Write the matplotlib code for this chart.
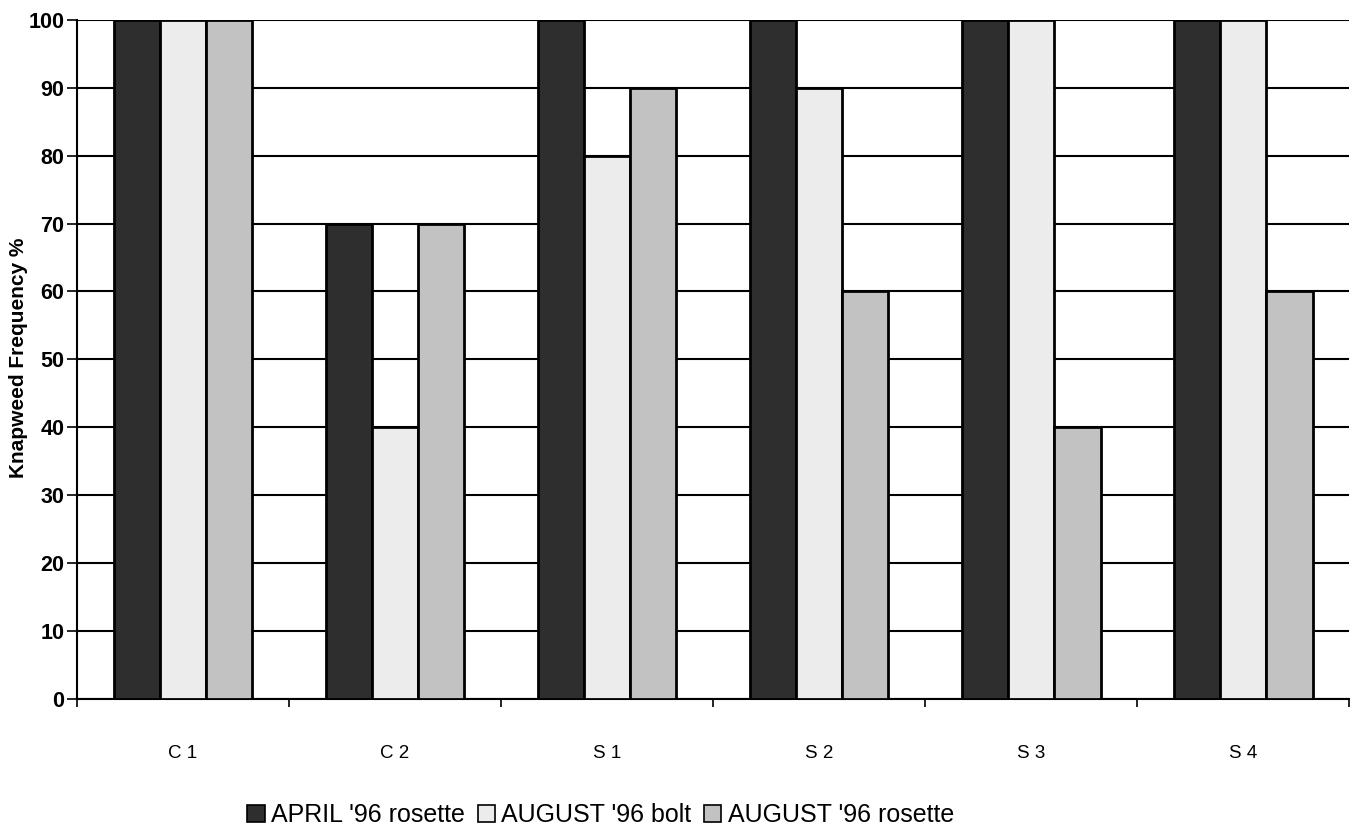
import matplotlib
matplotlib.use("Agg")
import matplotlib.pyplot as plt
import numpy as np

categories = ["C 1", "C 2", "S 1", "S 2", "S 3", "S 4"]
april_rosette = [100, 70, 100, 100, 100, 100]
august_bolt = [100, 40, 80, 90, 100, 100]
august_rosette = [100, 70, 90, 60, 40, 60]
series_names = ["APRIL '96 rosette", "AUGUST '96 bolt", "AUGUST '96 rosette"]
yticks = list(range(0, 101, 10))

plt.rcParams['font.family'] = ['Liberation Sans', 'DejaVu Sans']

fig = plt.figure(figsize=(13.56, 8.30), dpi=100)
ax = fig.add_axes([0.0568, 0.158, 0.9382, 0.818])

x = np.arange(len(categories))
w = 0.218
colors = ["#2e2e2e", "#ececec", "#c2c2c2"]
data = [april_rosette, august_bolt, august_rosette]
for i, (vals, c, name) in enumerate(zip(data, colors, series_names)):
    ax.bar(x + (i - 1) * w, vals, width=w, color=c, edgecolor="black",
           linewidth=2, label=name, zorder=3)

ax.set_xlim(-0.5, len(categories) - 0.5)
ax.set_ylim(0, 100)
ax.set_yticks(yticks)
ax.set_yticklabels([str(t) for t in yticks], fontsize=15.5, fontweight="bold")
ax.yaxis.grid(True, color="black", linewidth=1.5, zorder=0)
ax.set_axisbelow(True)

ax.set_xticks(x)
ax.set_xticklabels(categories, fontsize=13.5)
ax.set_xticks(np.arange(-0.5, len(categories) + 0.5, 1), minor=True)
ax.tick_params(axis="x", which="major", length=0, pad=33)
ax.tick_params(axis="x", which="minor", length=6, width=1.2, direction="out")
ax.tick_params(axis="y", length=7, width=1.2, direction="out", pad=2)

for s in ["top", "right"]:
    ax.spines[s].set_visible(False)
ax.spines["left"].set_linewidth(1.5)
ax.spines["bottom"].set_linewidth(1.5)

fig.text(19 / 1356, 1 - 358 / 830, "Knapweed Frequency %", rotation=90,
         ha="center", va="center", fontsize=15, fontweight="bold")

leg = fig.legend(loc="center", bbox_to_anchor=(0.443, 0.018), ncol=3, frameon=False,
                 fontsize=18, handlelength=0.7, handleheight=0.7, handletextpad=0.25,
                 columnspacing=0.5)
for p in leg.get_patches():
    p.set_linewidth(1.2)

fig.savefig("out.png", dpi=100)
